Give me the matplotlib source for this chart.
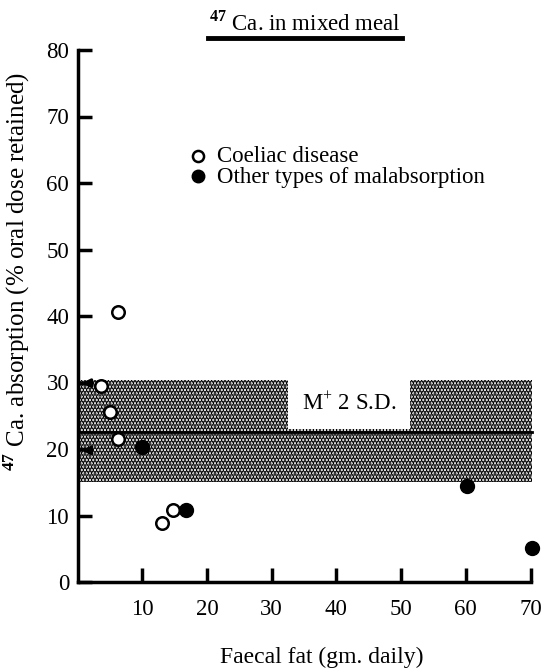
import matplotlib
matplotlib.use("Agg")
import matplotlib.pyplot as plt

plt.rcParams['font.family'] = ['Liberation Serif', 'DejaVu Serif']
plt.rcParams['mathtext.fontset'] = 'custom'
plt.rcParams['mathtext.rm'] = 'Liberation Serif'
plt.rcParams['mathtext.bf'] = 'Liberation Serif:bold'
plt.rcParams['hatch.linewidth'] = 2.2

# coeliac disease (open circles)
coeliac_fat = [3.7, 6.2, 5.0, 6.3, 14.8, 13.0]
coeliac_ca = [29.5, 40.6, 25.6, 21.5, 10.8, 8.8]

# other types of malabsorption (filled circles)
other_fat = [10.0, 16.7, 60.2, 70.2]
other_ca = [20.3, 10.8, 14.4, 5.1]

# normal range, mean +/- 2 S.D.
mean_ca = 22.6
sd_low = 15.1
sd_high = 30.4
band_x = [0, 70.3]
arrow_marks = [29.9, 19.8]

xticks = [10, 20, 30, 40, 50, 60, 70]
yticks = [0, 10, 20, 30, 40, 50, 60, 70, 80]

fig = plt.figure(figsize=(5.43, 6.71), dpi=100)
ax = fig.add_axes([77.5 / 543, (671 - 582) / 671, (537 - 77.5) / 543, (582 - 50) / 671])

ax.fill_between(band_x, sd_low, sd_high, facecolor='white', edgecolor='black',
                hatch='.....', linewidth=0, zorder=1)
ax.plot(band_x, [mean_ca, mean_ca], color='black', lw=2.0, zorder=2)

ax.text(42, 26.9, r"M$^{+}$ 2 S.D.", fontsize=16.5, ha='center', va='center', zorder=3,
        bbox=dict(facecolor='white', edgecolor='none', pad=10))

for yv in arrow_marks:
    ax.annotate("", xy=(0.2, yv), xytext=(2.4, yv),
                arrowprops=dict(arrowstyle='-|>', color='black', lw=2.2, mutation_scale=12),
                zorder=4)

ax.plot(coeliac_fat, coeliac_ca, 'o', ms=9, mfc='white', mec='black', mew=1.8,
        clip_on=False, zorder=5)
ax.plot(other_fat, other_ca, 'o', ms=10, mfc='black', mec='black',
        clip_on=False, zorder=5)

# legend drawn as text, like the original figure
ax.plot([18.6], [64.0], 'o', ms=8, mfc='white', mec='black', mew=1.8)
ax.plot([18.6], [61.1], 'o', ms=9, mfc='black', mec='black')
ax.text(21.5, 64.0, "Coeliac disease", fontsize=16.5, va='center')
ax.text(21.5, 60.9, "Other types of malabsorption", fontsize=16.5, va='center')

ax.set_xlim(0, 71)
ax.set_ylim(0, 80)
ax.spines['top'].set_visible(False)
ax.spines['right'].set_visible(False)
ax.spines['left'].set_linewidth(2.5)
ax.spines['bottom'].set_linewidth(2.5)
ax.spines['left'].set_bounds(0, 80)
ax.spines['bottom'].set_bounds(0, 70)

ax.set_xticks(xticks)
ax.set_yticks(yticks)
ax.tick_params(direction='in', length=10, width=2.5, labelsize=16.5, pad=12)
ax.tick_params(axis='y', pad=6)

fig.text(322 / 543, 1 - 657 / 671, "Faecal fat (gm. daily)", fontsize=17,
         ha='center', va='center')
ax.set_ylabel(r"$^{\mathbf{47}}$ Ca. absorption (% oral dose retained)", fontsize=18)
ax.yaxis.set_label_coords(-0.099, 0.583)

fig.text(0.561, 0.965, r"$^{\mathbf{47}}$ Ca. in mixed meal", fontsize=16.5, ha='center', va='center')
fig.add_artist(plt.Line2D([208 / 543, 402 / 543], [1 - 38 / 671, 1 - 38 / 671],
                          color='black', lw=3.5))

fig.savefig("out.png", dpi=100)
